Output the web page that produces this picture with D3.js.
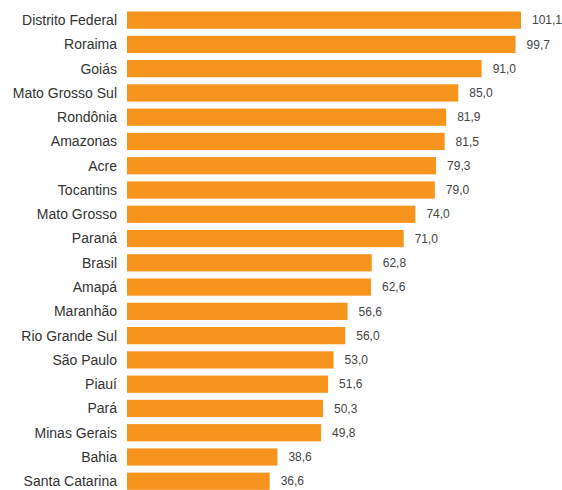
<!DOCTYPE html>
<html>
<head>
<meta charset="utf-8">
<script src="https://cdn.jsdelivr.net/npm/d3@7"></script>
<style>
  body { margin: 0; background: #fff; }
  svg { display: block; }
</style>
</head>
<body>
<div class="barras"></div>
<script>
var estados = ["Distrito Federal", "Roraima", "Goiás", "Mato Grosso Sul", "Rondônia",
    "Amazonas", "Acre", "Tocantins", "Mato Grosso", "Paraná", "Brasil", "Amapá",
    "Maranhão", "Rio Grande Sul", "São Paulo", "Piauí", "Pará", "Minas Gerais",
    "Bahia", "Santa Catarina"];
var valores = [101.1, 99.7, 91.0, 85.0, 81.9, 81.5, 79.3, 79.0, 74.0, 71.0,
    62.8, 62.6, 56.6, 56.0, 53.0, 51.6, 50.3, 49.8, 38.6, 36.6];

var w = 562;
var h = 490;
var x0 = 127;

var dados = estados.map(function(e, i) { return {nome: e, valor: valores[i]}; });

var svg = d3.select(".barras")
    .append("svg")
    .attr("width", w)
    .attr("height", h);

var x = d3.scaleLinear().domain([0, 101.1]).range([x0, 521]);
var step = 24.27;
var pad = 0.29;
var y = d3.scaleBand()
    .domain(estados)
    .range([11.5 - step * pad, 11.5 - step * pad + step * (estados.length + pad)])
    .paddingInner(pad)
    .paddingOuter(pad);

svg.selectAll("rect")
    .data(dados)
    .enter()
    .append("rect")
    .attr("x", x(0))
    .attr("y", function(d) { return y(d.nome); })
    .attr("width", function(d) { return x(d.valor) - x(0); })
    .attr("height", y.bandwidth())
    .attr("fill", "#f7941d");

// nomes dos estados
svg.selectAll("text.nome")
    .data(dados)
    .enter()
    .append("text")
    .attr("class", "nome")
    .text(function(d) { return d.nome; })
    .attr("text-anchor", "end")
    .attr("x", x0 - 10)
    .attr("y", function(d) { return y(d.nome) + y.bandwidth() / 2; })
    .attr("dy", "0.35em")
    .attr("font-family", "Liberation Sans, Arial, sans-serif")
    .attr("font-size", "14px")
    .attr("fill", "#333");

// valores
svg.selectAll("text.valor")
    .data(dados)
    .enter()
    .append("text")
    .attr("class", "valor")
    .text(function(d) { return d3.format(".1f")(d.valor).replace(".", ","); })
    .attr("x", function(d) { return x(d.valor) + 11; })
    .attr("y", function(d) { return y(d.nome) + y.bandwidth() / 2; })
    .attr("dy", "0.35em")
    .attr("font-family", "Liberation Sans, Arial, sans-serif")
    .attr("font-size", "12px")
    .attr("fill", "#444");
</script>
</body>
</html>
